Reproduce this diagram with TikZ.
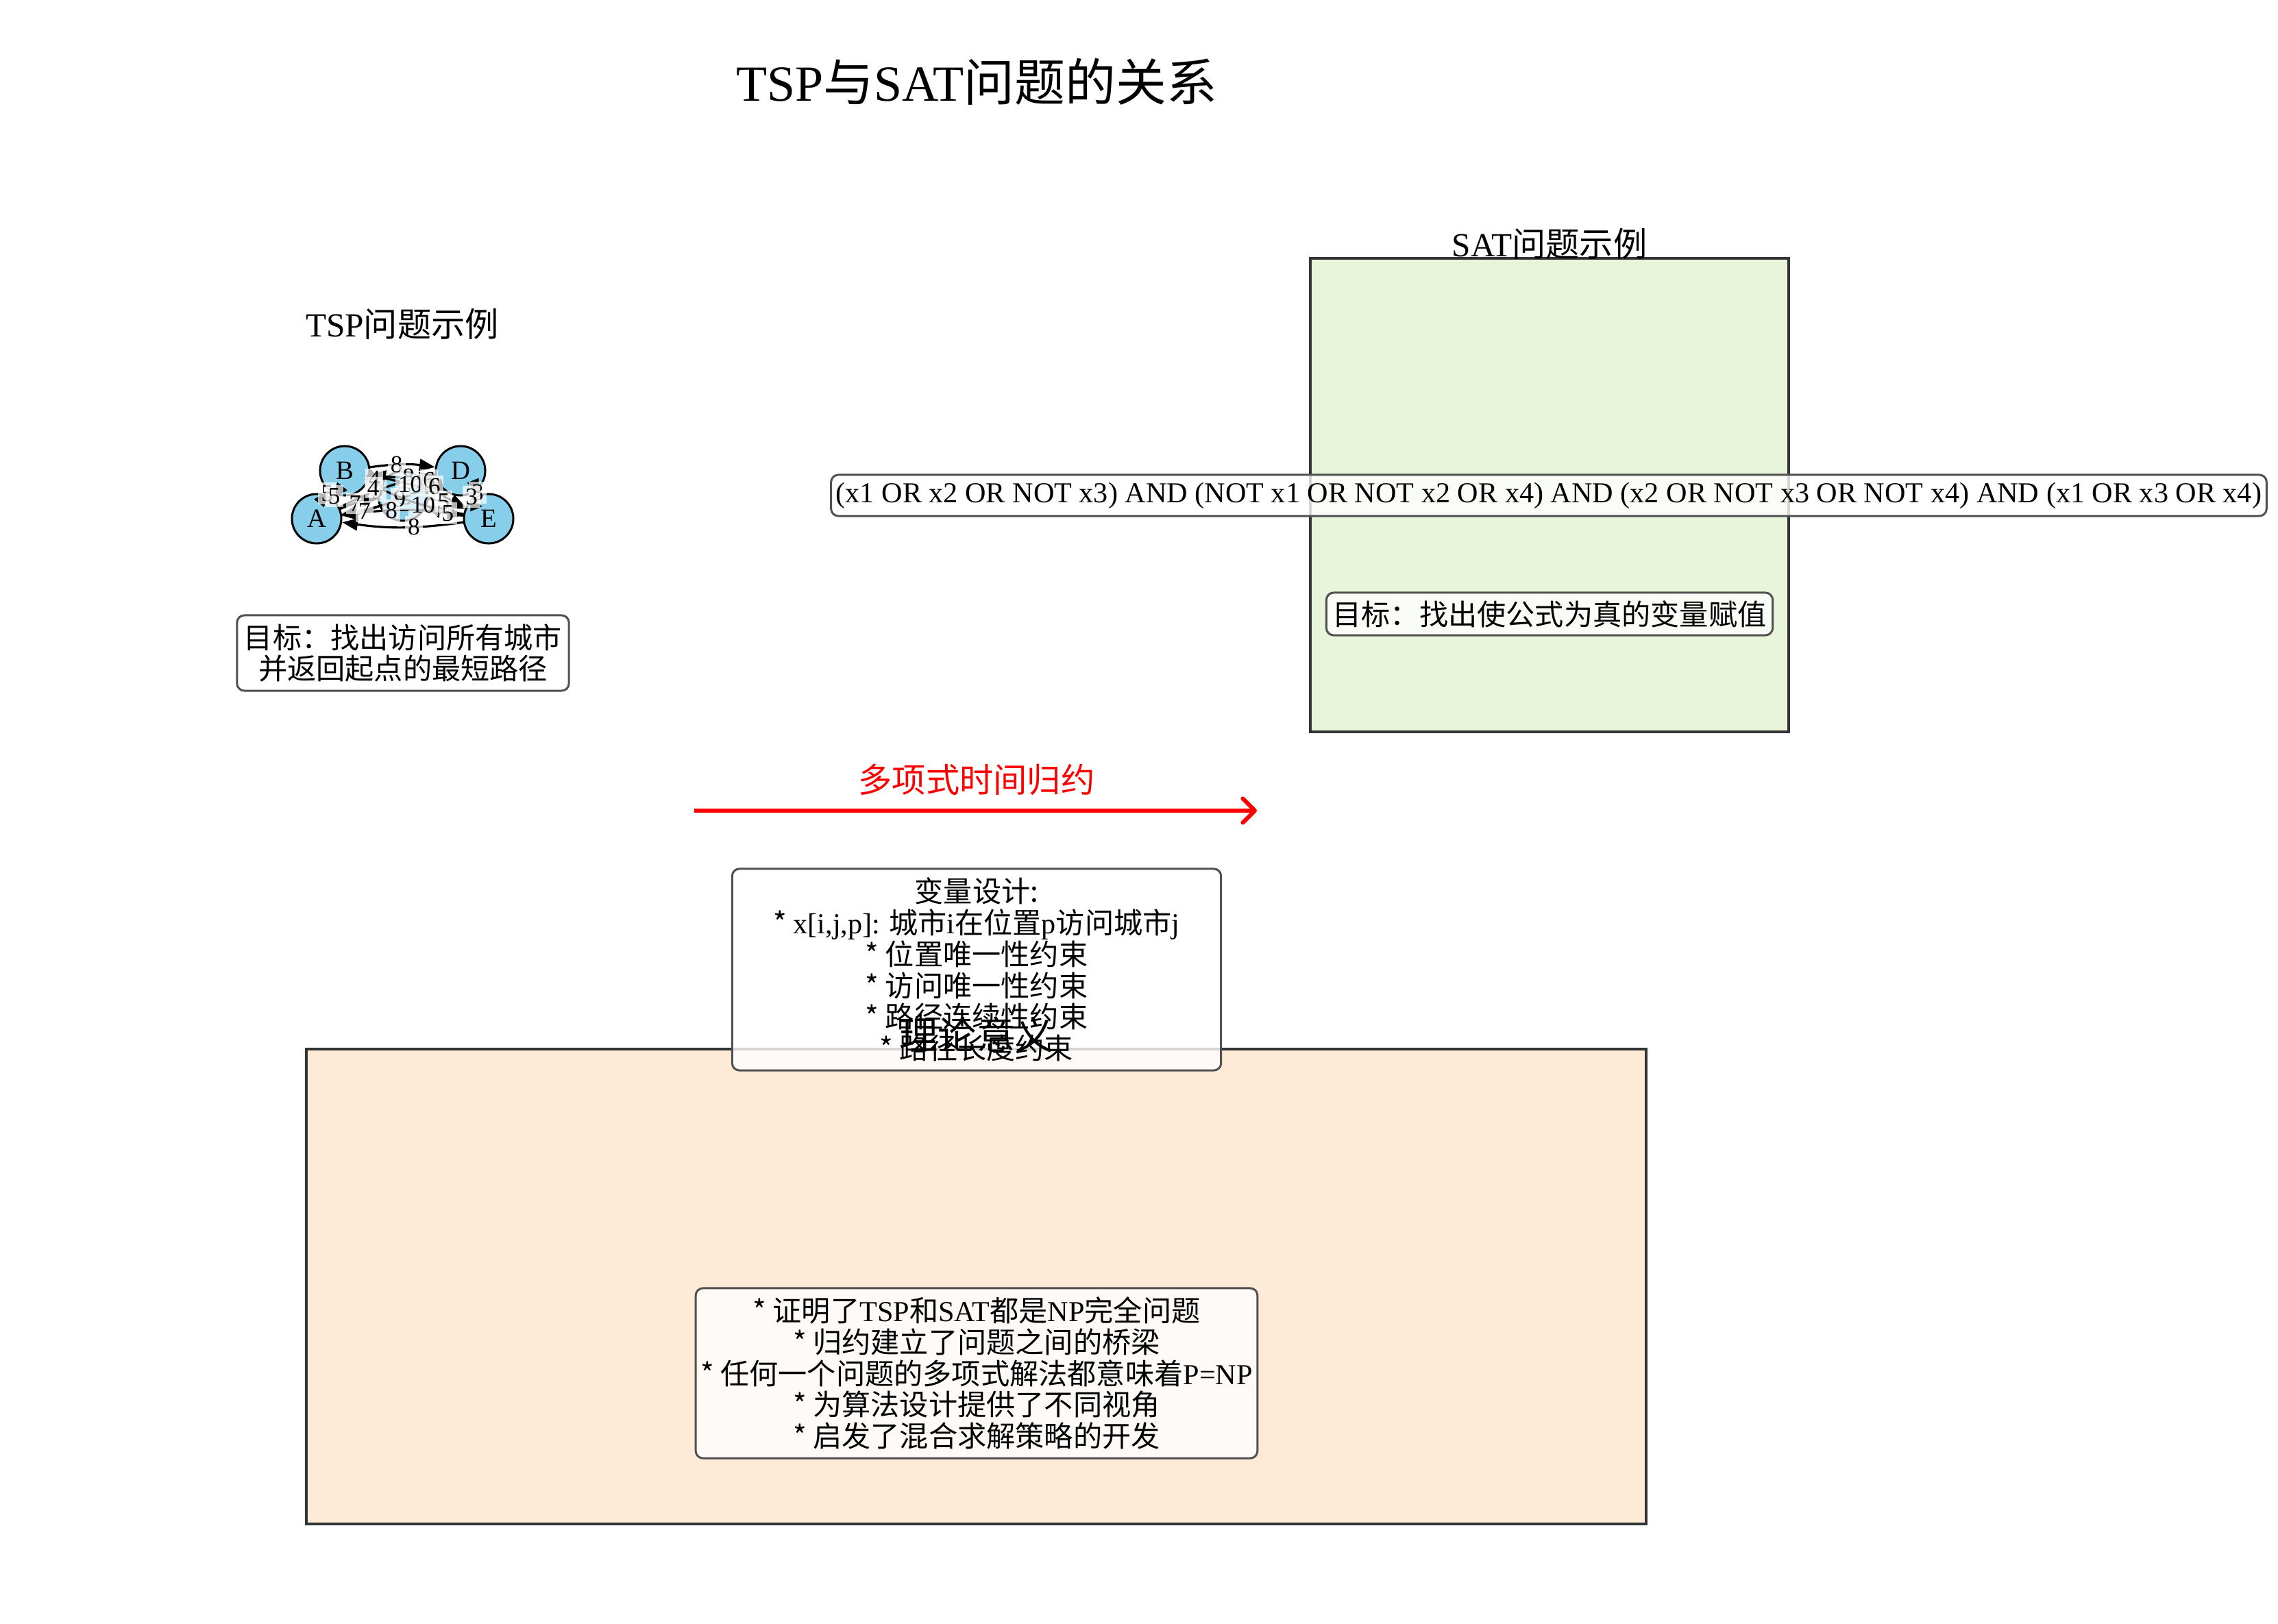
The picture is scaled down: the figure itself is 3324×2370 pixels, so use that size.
\documentclass[tikz,border=0pt]{standalone}
\usepackage{fontspec}
\setmainfont{Noto Sans CJK SC}
\newfontfamily\latinfont{Liberation Serif}
\newcommand{\ltn}[1]{{\latinfont #1}}
\usetikzlibrary{arrows.meta}

\definecolor{cityblue}{RGB}{135,206,235}
\definecolor{satgreen}{RGB}{232,245,219}
\definecolor{peach}{RGB}{253,234,215}
\definecolor{framegray}{RGB}{51,51,51}
\definecolor{boxgray}{RGB}{80,80,80}

\tikzset{
  panel/.style={draw=framegray,line width=1.1pt},
  notebox/.style={draw=boxgray,line width=0.85pt,rounded corners=3pt,
    fill=white,fill opacity=0.8,text opacity=1,align=center,inner sep=2pt,
    font=\fontsize{12}{13}\selectfont},
}

\begin{document}
\begin{tikzpicture}[x=0.01cm,y=-0.01cm]
\useasboundingbox (0,0) rectangle (3324,2370);

\begin{scope} % background panels
  \draw[panel,fill=satgreen] (1912,377) rectangle (2610,1068);
  \draw[panel,fill=peach] (447,1531) rectangle (2402,2224);
\end{scope}

\node (title) at (1425,119)
  {\fontsize{21}{25}\selectfont\ltn{TSP}与\ltn{SAT}问题的关系};

\begin{scope}[font=\fontsize{14}{16}\selectfont] % panel headings
  \node (tsphead) at (587,473) {\ltn{TSP}问题示例};
  \node (sathead) at (2261,356) {\ltn{SAT}问题示例};
\end{scope}

\begin{scope} % TSP example graph
  [city/.style={circle,draw=black,line width=0.85pt,fill=cityblue,
    minimum size=0.72cm,inner sep=0pt,
    font=\latinfont\fontsize{11}{11}\selectfont},
   road/.style={-{Triangle[length=6.5pt,width=5pt]},line width=0.9pt},
   weight/.style={fill=white,fill opacity=0.7,text opacity=1,inner sep=1.2pt,
    font=\latinfont\fontsize{10}{10}\selectfont}]
  \node[city] (A) at (462,757) {A};
  \node[city] (B) at (503,687) {B};
  \node[city] (C) at (588,724) {C};
  \node[city] (D) at (672,687) {D};
  \node[city] (E) at (713,757) {E};
  \foreach \u/\v/\w in {A/B/5,A/C/7,A/D/9,A/E/8,B/C/4,B/D/8,B/E/10,
      C/D/6,C/E/5,D/E/3} {
    \draw[road] (\u) to[bend left=8] (\v);
    \draw[road] (\v) to[bend left=8] (\u);
  }
  \foreach \u/\v/\w in {A/B/5,A/C/7,A/D/9,A/E/8,B/C/4,B/D/8,B/E/10,
      C/D/6,C/E/5,D/E/3} {
    \path (\u) to[bend left=8] node[weight,pos=0.4] (w\u\v) {\w} (\v);
    \path (\v) to[bend left=8] node[weight,pos=0.4] (w\v\u) {\w} (\u);
  }
\end{scope}

\node[notebox,minimum width=4.84cm,minimum height=1.10cm] (tspgoal)
  at (588,953) {目标：找出访问所有城市\\并返回起点的最短路径};

% SAT side
\node[notebox,minimum width=20.9cm,minimum height=0.6cm] (formula) at (2260,723)
  {\ltn{(x1 OR x2 OR NOT x3) AND (NOT x1 OR NOT x2 OR x4) AND
   (x2 OR NOT x3 OR NOT x4) AND (x1 OR x3 OR x4)}};
\node[notebox,minimum width=6.51cm,minimum height=0.62cm] (satgoal)
  at (2261,896) {目标：找出使公式为真的变量赋值};

\begin{scope}[red] % reduction arrow
  \coordinate (reducetail) at (1013,1183);
  \coordinate (reducehead) at (1834,1183);
  \draw[line width=1.7pt,-{Straight Barb[length=5pt,width=10pt,round]}]
    (reducetail) -- (reducehead);
  \node[font=\fontsize{14}{16}\selectfont] (reducelabel) at (1425,1138)
    {多项式时间归约};
\end{scope}

\node[notebox,minimum width=7.13cm,minimum height=2.94cm] (vardesign)
  at (1425,1415) {变量设计:\\
  * \ltn{x[i,j,p]:} 城市\ltn{i}在位置\ltn{p}访问城市\ltn{j}\\
  * 位置唯一性约束\\
  * 访问唯一性约束\\
  * 路径连续性约束\\
  * 路径长度约束};

\node[font=\fontsize{16}{18}\selectfont] (theoryhead) at (1425,1510) {理论意义};

\node[notebox,minimum width=8.14cm,minimum height=2.48cm] (theory)
  at (1425,2004) {* 证明了\ltn{TSP}和\ltn{SAT}都是\ltn{NP}完全问题\\
  * 归约建立了问题之间的桥梁\\
  * 任何一个问题的多项式解法都意味着\ltn{P=NP}\\
  * 为算法设计提供了不同视角\\
  * 启发了混合求解策略的开发};

\end{tikzpicture}
\end{document}
